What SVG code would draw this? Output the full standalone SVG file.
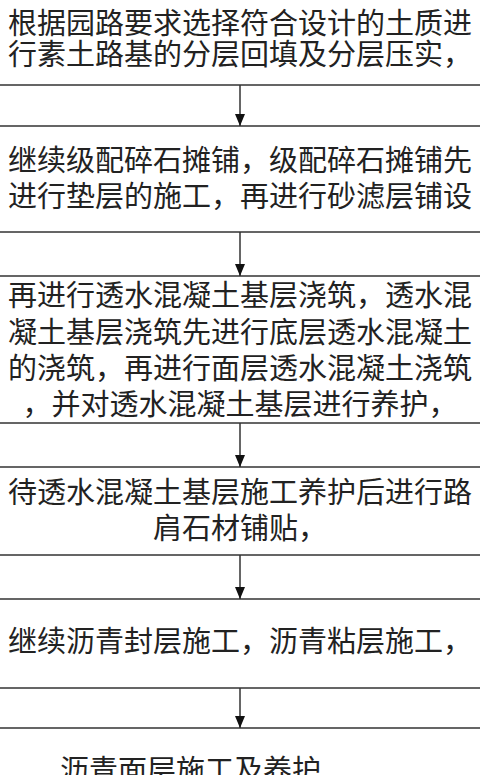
<svg xmlns="http://www.w3.org/2000/svg" width="480" height="775" viewBox="0 0 480 775">
<style>
.box{fill:#fff;stroke:#333;stroke-width:1.5}
.t{font-family:"Liberation Serif","Noto Sans CJK SC",serif;font-size:29px;fill:#222;text-anchor:middle}
.ts{font-family:"Liberation Serif","Noto Sans CJK SC",serif;font-size:29px;fill:#222;text-anchor:start}
.c{stroke:#333;stroke-width:1.5;fill:none}
</style>
<defs>
<marker id="ah" markerWidth="12" markerHeight="10" refX="12" refY="5" orient="auto" markerUnits="userSpaceOnUse" viewBox="0 0 12 10">
<path d="M0,0 L12,5 L0,10 Z" fill="#111"/>
</marker>
</defs>
<rect width="480" height="775" fill="#fff"/>
<g id="n1">
<rect class="box" x="-5" y="-10" width="490" height="95"/>
<text class="t" x="240" y="34">根据园路要求选择符合设计的土质进</text>
<text class="t" x="240" y="65">行素土路基的分层回填及分层压实，</text>
</g>
<g id="n2">
<rect class="box" x="-5" y="126" width="490" height="106"/>
<text class="t" x="240" y="171">继续级配碎石摊铺，级配碎石摊铺先</text>
<text class="t" x="240" y="207">进行垫层的施工，再进行砂滤层铺设</text>
</g>
<g id="n3">
<rect class="box" x="-5" y="276" width="490" height="147"/>
<text class="t" x="240" y="306">再进行透水混凝土基层浇筑，透水混</text>
<text class="t" x="240" y="343">凝土基层浇筑先进行底层透水混凝土</text>
<text class="t" x="240" y="379">的浇筑，再进行面层透水混凝土浇筑</text>
<text class="t" x="240" y="415">，并对透水混凝土基层进行养护，</text>
</g>
<g id="n4">
<rect class="box" x="-5" y="467" width="490" height="88"/>
<text class="t" x="240" y="503">待透水混凝土基层施工养护后进行路</text>
<text class="t" x="240" y="539">肩石材铺贴，</text>
</g>
<g id="n5">
<rect class="box" x="-5" y="599" width="490" height="89"/>
<text class="t" x="240" y="652">继续沥青封层施工，沥青粘层施工，</text>
</g>
<g id="n6">
<rect class="box" x="-5" y="728" width="490" height="60"/>
<text class="ts" x="60" y="781">沥青面层施工及养护</text>
</g>
<g id="connectors">
<line class="c" x1="240" y1="85" x2="240" y2="126" marker-end="url(#ah)"/>
<line class="c" x1="240" y1="232" x2="240" y2="276" marker-end="url(#ah)"/>
<line class="c" x1="240" y1="423" x2="240" y2="467" marker-end="url(#ah)"/>
<line class="c" x1="240" y1="555" x2="240" y2="599" marker-end="url(#ah)"/>
<line class="c" x1="240" y1="688" x2="240" y2="728" marker-end="url(#ah)"/>
</g>
</svg>
